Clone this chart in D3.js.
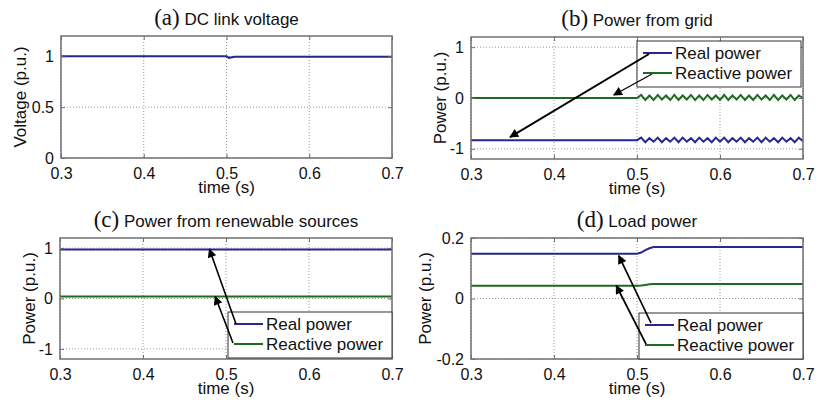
<!DOCTYPE html>
<html lang="en">
<head>
<meta charset="utf-8">
<title>Power system waveforms</title>
<script src="https://cdn.jsdelivr.net/npm/d3@7"></script>
<style>
* { margin: 0; padding: 0; }
body { background: #fff; font-family: "Liberation Sans", Arial, sans-serif; }
.tick text { font-family: "Liberation Sans", Arial, sans-serif; }
</style>
</head>
<body>
<script>
let w = 816;
let h = 403;

// shared time axis
const timeTicks = [0.3, 0.4, 0.5, 0.6, 0.7];

// (a) dc link voltage
const dcTime = [0.3, 0.5, 0.503, 0.51, 0.7];
const dcVoltage = [1.0, 1.0, 0.985, 0.995, 0.995];
const voltTicks = [0, 0.5, 1];

// (b) power from grid, 100 Hz ripple after 0.5 s
const gridTime = [0.3, 0.5, 0.505, 0.51, 0.515, 0.52, 0.525, 0.53, 0.535, 0.54, 0.545, 0.55,
  0.555, 0.56, 0.565, 0.57, 0.575, 0.58, 0.585, 0.59, 0.595, 0.6, 0.605, 0.61, 0.615, 0.62,
  0.625, 0.63, 0.635, 0.64, 0.645, 0.65, 0.655, 0.66, 0.665, 0.67, 0.675, 0.68, 0.685, 0.69,
  0.695, 0.7];
const gridReal = [-0.83, -0.83, -0.78, -0.87, -0.79, -0.86, -0.78, -0.87, -0.79, -0.86, -0.78,
  -0.87, -0.78, -0.86, -0.79, -0.87, -0.78, -0.86, -0.79, -0.87, -0.78, -0.86, -0.78, -0.87,
  -0.79, -0.86, -0.78, -0.87, -0.79, -0.86, -0.78, -0.87, -0.78, -0.86, -0.79, -0.87, -0.78,
  -0.86, -0.79, -0.87, -0.78, -0.85];
const gridReactive = [0, 0, 0.06, -0.04, 0.05, -0.04, 0.06, -0.03, 0.05, -0.04, 0.06, -0.04,
  0.05, -0.03, 0.06, -0.04, 0.05, -0.04, 0.06, -0.03, 0.05, -0.04, 0.06, -0.04, 0.05, -0.03,
  0.06, -0.04, 0.05, -0.04, 0.06, -0.03, 0.05, -0.04, 0.06, -0.04, 0.05, -0.03, 0.06, -0.04,
  0.05, 0.0];
const gridTicks = [-1, 0, 1];

// (c) power from renewable sources
const renewTime = [0.3, 0.7];
const renewReal = [0.97, 0.97];
const renewReactive = [0.04, 0.04];
const renewTicks = [-1, 0, 1];

// (d) load power
const loadTime = [0.3, 0.5, 0.505, 0.51, 0.515, 0.52, 0.7];
const loadReal = [0.148, 0.148, 0.152, 0.16, 0.166, 0.17, 0.17];
const loadReactive = [0.042, 0.042, 0.043, 0.045, 0.047, 0.048, 0.048];
const loadTicks = [-0.2, 0, 0.2];

const legendNames = ["Real power", "Reactive power"];

let blue = "#27278f";
let green = "#1f6a1f";
let frameColor = "#707070";

let panels = [
  { letter: "(a)", title: "DC link voltage", box: [61, 36, 392, 158], yDomain: [0, 1.2],
    yTicks: voltTicks, yLabel: "Voltage (p.u.)", yLabelOff: -41,
    series: [{ t: dcTime, v: dcVoltage, color: blue }] },
  { letter: "(b)", title: "Power from grid", box: [471, 37, 803, 159], yDomain: [-1.2, 1.2],
    yTicks: gridTicks, yLabel: "Power (p.u.)", yLabelOff: -31,
    series: [{ t: gridTime, v: gridReal, color: blue }, { t: gridTime, v: gridReactive, color: green }],
    legend: { x: 637, y: 41 },
    arrows: [{ head: [0.347, -0.77], row: 0, dx: 12, dy: 1, width: 2 },
             { head: [0.472, 0.06], row: 1, dx: 15, dy: 1, width: 1.3 }] },
  { letter: "(c)", title: "Power from renewable sources", box: [60, 238, 392, 359], yDomain: [-1.2, 1.2],
    yTicks: renewTicks, yLabel: "Power (p.u.)", yLabelOff: -31,
    series: [{ t: renewTime, v: renewReal, color: blue }, { t: renewTime, v: renewReactive, color: green }],
    legend: { x: 228, y: 312 },
    arrows: [{ head: [0.48, 0.98], row: 0, dx: 8, dy: 0, width: 1.6 },
             { head: [0.487, 0.04], row: 1, dx: 5, dy: -1, width: 1.6 }] },
  { letter: "(d)", title: "Load power", box: [471, 238, 803, 359], yDomain: [-0.2, 0.2],
    yTicks: loadTicks, yLabel: "Power (p.u.)", yLabelOff: -46,
    series: [{ t: loadTime, v: loadReal, color: blue }, { t: loadTime, v: loadReactive, color: green }],
    legend: { x: 639, y: 313 },
    arrows: [{ head: [0.478, 0.142], row: 0, dx: 12, dy: -2, width: 1.7 },
             { head: [0.475, 0.043], row: 1, dx: 7, dy: -1, width: 1.7 }] }
];

let svg = d3.select("body").append("svg")
  .attr("width", w)
  .attr("height", h);

svg.append("defs").append("marker")
  .attr("id", "head")
  .attr("viewBox", "0 0 10 10")
  .attr("refX", 9).attr("refY", 5)
  .attr("markerUnits", "userSpaceOnUse")
  .attr("markerWidth", 11).attr("markerHeight", 9)
  .attr("orient", "auto")
  .append("path")
  .attr("d", "M0,0 L10,5 L0,10 z")
  .attr("fill", "#000");

panels.forEach(drawPanel);

function fmt(d) { return String(d); }

function drawPanel(p) {
  let [x0, y0, x1, y1] = p.box;
  let x = d3.scaleLinear().domain([0.3, 0.7]).range([x0, x1]);
  let y = d3.scaleLinear().domain(p.yDomain).range([y1, y0]);
  let g = svg.append("g");

  // dotted grid
  g.append("g").selectAll("line").data(timeTicks).enter().append("line")
    .attr("x1", d => x(d)).attr("x2", d => x(d))
    .attr("y1", y0).attr("y2", y1)
    .attr("stroke", "#9a9a9a").attr("stroke-dasharray", "1,2");
  g.append("g").selectAll("line").data(p.yTicks).enter().append("line")
    .attr("x1", x0).attr("x2", x1)
    .attr("y1", d => y(d)).attr("y2", d => y(d))
    .attr("stroke", "#9a9a9a").attr("stroke-dasharray", "1,2");

  // traces
  let line = d3.line().x(d => x(d[0])).y(d => y(d[1]));
  p.series.forEach(s => {
    g.append("path")
      .datum(s.t.map((t, i) => [t, s.v[i]]))
      .attr("d", line)
      .attr("fill", "none")
      .attr("stroke", s.color)
      .attr("stroke-width", 2);
  });

  // axes, ticks pointing inward
  let xAx = g.append("g").attr("transform", "translate(0," + y1 + ")")
    .call(d3.axisBottom(x).tickValues(timeTicks).tickFormat(fmt).tickSize(-4).tickPadding(10));
  let xTop = g.append("g").attr("transform", "translate(0," + y0 + ")")
    .call(d3.axisTop(x).tickValues(timeTicks).tickFormat("").tickSize(-4));
  let yAx = g.append("g").attr("transform", "translate(" + x0 + ",0)")
    .call(d3.axisLeft(y).tickValues(p.yTicks).tickFormat(fmt).tickSize(-4).tickPadding(7));
  let yRight = g.append("g").attr("transform", "translate(" + x1 + ",0)")
    .call(d3.axisRight(y).tickValues(p.yTicks).tickFormat("").tickSize(-4));
  [xAx, xTop, yAx, yRight].forEach(a => {
    a.select(".domain").remove();
    a.selectAll(".tick line").attr("stroke", frameColor);
    a.selectAll(".tick text").attr("font-size", 16).attr("fill", "#111");
  });

  g.append("rect")
    .attr("x", x0).attr("y", y0)
    .attr("width", x1 - x0).attr("height", y1 - y0)
    .attr("fill", "none")
    .attr("stroke", frameColor)
    .attr("stroke-width", 1.5);

  // labels
  g.append("text")
    .attr("x", (x0 + x1) / 2).attr("y", y1 + 35)
    .attr("text-anchor", "middle")
    .attr("font-size", 17).attr("fill", "#111")
    .text("time (s)");
  g.append("text")
    .attr("transform", "translate(" + (x0 + p.yLabelOff) + "," + ((y0 + y1) / 2) + ") rotate(-90)")
    .attr("text-anchor", "middle")
    .attr("dy", "0.35em")
    .attr("font-size", 17).attr("fill", "#111")
    .text(p.yLabel);
  let title = g.append("text")
    .attr("x", (x0 + x1) / 2).attr("y", y0 - 11)
    .attr("text-anchor", "middle")
    .attr("fill", "#111");
  title.append("tspan")
    .attr("font-family", "'Liberation Serif', 'Times New Roman', serif")
    .attr("font-size", 23)
    .text(p.letter);
  title.append("tspan")
    .attr("font-size", 17)
    .text(" " + p.title);

  if (!p.legend) return;

  // legend
  let lx = p.legend.x, ly = p.legend.y;
  let rows = [ly + 12, ly + 32];
  g.append("rect")
    .attr("x", lx).attr("y", ly)
    .attr("width", 164).attr("height", 46)
    .attr("fill", "#fff")
    .attr("stroke", "#333")
    .attr("stroke-width", 1);
  p.series.forEach((s, i) => {
    g.append("line")
      .attr("x1", lx + 6).attr("x2", lx + 35)
      .attr("y1", rows[i]).attr("y2", rows[i])
      .attr("stroke", s.color).attr("stroke-width", 2);
    g.append("text")
      .attr("x", lx + 38).attr("y", rows[i] + 6)
      .attr("font-size", 17).attr("fill", "#111")
      .text(legendNames[i]);
  });

  // annotation arrows from legend entries to traces
  p.arrows.forEach(a => {
    g.append("line")
      .attr("x1", lx + a.dx).attr("y1", rows[a.row] + a.dy)
      .attr("x2", x(a.head[0])).attr("y2", y(a.head[1]))
      .attr("stroke", "#000")
      .attr("stroke-width", a.width)
      .attr("marker-end", "url(#head)");
  });
}
</script>
</body>
</html>
